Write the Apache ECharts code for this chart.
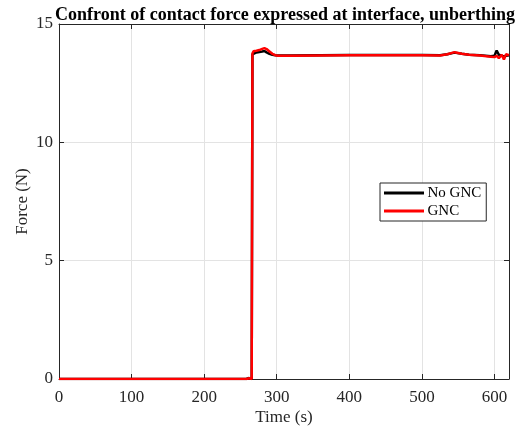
<!DOCTYPE html>
<html>
<head>
<meta charset="utf-8">
<script src="https://cdn.jsdelivr.net/npm/echarts@6/dist/echarts.min.js"></script>
<style>html,body{margin:0;padding:0;background:#fff}#c{width:532px;height:431px}</style>
</head>
<body>
<div id="c"></div>
<script>
const titleText = 'Confront of contact force expressed at interface, unberthing';
const xTicks = [0, 100, 200, 300, 400, 500, 600];
const yTicks = [0, 5, 10, 15];
const time = [0, 100, 200, 258, 262, 264, 265.5, 266.5, 268, 272, 276, 280, 283, 286, 290, 294, 298, 302, 320, 360, 400, 450, 500, 525, 535, 545, 555, 565, 580, 595, 600, 603, 606, 610, 613, 616, 620];
const noGnc = [0, 0, 0, 0, 0.04, 0.08, 0, 13.72, 13.78, 13.8, 13.82, 13.84, 13.86, 13.8, 13.74, 13.7, 13.68, 13.67, 13.67, 13.68, 13.69, 13.69, 13.69, 13.68, 13.72, 13.79, 13.74, 13.7, 13.68, 13.64, 13.66, 13.88, 13.7, 13.66, 13.62, 13.66, 13.68];
const gnc = [0, 0, 0, 0, 0.03, 0.06, 0, 13.75, 13.85, 13.87, 13.9, 13.95, 13.98, 13.94, 13.84, 13.74, 13.68, 13.66, 13.66, 13.67, 13.68, 13.68, 13.68, 13.67, 13.72, 13.81, 13.74, 13.7, 13.67, 13.62, 13.6, 13.66, 13.55, 13.7, 13.5, 13.72, 13.68];

const font = 'Liberation Serif';
const axisColor = '#262626';
const gridColor = '#e3e3e3';
const chart = echarts.init(document.getElementById('c'));
const xMin = xTicks[0], xMax = 620;
const yMin = yTicks[0], yMax = yTicks[yTicks.length - 1];
const baseX = {
  type: 'value', min: xMin, max: xMax, interval: xTicks[1] - xTicks[0],
  axisLine: {show: true, onZero: false, lineStyle: {color: axisColor, width: 1}},
  axisTick: {show: true, inside: true, length: 5, lineStyle: {color: axisColor}}
};
const baseY = {
  type: 'value', min: yMin, max: yMax, interval: yTicks[1] - yTicks[0],
  axisLine: {show: true, onZero: false, lineStyle: {color: axisColor, width: 1}},
  axisTick: {show: true, inside: true, length: 5, lineStyle: {color: axisColor}}
};
const lineIcon = 'path://M0,0 L40,0 L40,3 L0,3 Z';
chart.setOption({
  backgroundColor: '#fff',
  animation: false,
  title: {
    text: titleText, left: 280, top: 1, textAlign: 'center',
    textStyle: {fontFamily: font, fontWeight: 'bold', fontSize: 18, color: '#000'}
  },
  grid: {left: 59, right: 23, top: 24, bottom: 52, outerBoundsMode: 'none', containLabel: false},
  legend: {
    orient: 'vertical', left: 380, top: 183,
    backgroundColor: '#fff', borderColor: axisColor, borderWidth: 1,
    padding: [2, 5, 2, 4], itemGap: 2, itemWidth: 41, itemHeight: 3,
    textStyle: {fontFamily: font, fontSize: 15, color: '#000', padding: [0, 0, 0, -2], lineHeight: 16},
    data: [{name: 'No GNC', icon: lineIcon}, {name: 'GNC', icon: lineIcon}]
  },
  xAxis: [
    Object.assign({}, baseX, {
      position: 'bottom',
      name: 'Time (s)', nameLocation: 'middle', nameGap: 30, nameMoveOverlap: false,
      nameTextStyle: {fontFamily: font, fontSize: 17, color: axisColor},
      axisLabel: {fontFamily: font, fontSize: 17, color: axisColor, margin: 10, showMaxLabel: false},
      splitLine: {show: true, lineStyle: {color: gridColor, width: 1}}
    }),
    Object.assign({}, baseX, {
      position: 'top', axisLabel: {show: false}, splitLine: {show: false}
    })
  ],
  yAxis: [
    Object.assign({}, baseY, {
      position: 'left',
      name: 'Force (N)', nameLocation: 'middle', nameGap: 28, nameMoveOverlap: false,
      nameTextStyle: {fontFamily: font, fontSize: 17, color: axisColor},
      axisLabel: {fontFamily: font, fontSize: 17, color: axisColor, margin: 6},
      splitLine: {show: true, lineStyle: {color: gridColor, width: 1}}
    }),
    Object.assign({}, baseY, {
      position: 'right', axisLabel: {show: false}, splitLine: {show: false}
    })
  ],
  series: [
    {
      name: 'No GNC', type: 'line', xAxisIndex: 0, yAxisIndex: 0,
      data: time.map((t, i) => [t, noGnc[i]]),
      showSymbol: false, symbol: 'none',
      lineStyle: {color: '#000', width: 2.5}, itemStyle: {color: '#000'}
    },
    {
      name: 'GNC', type: 'line', xAxisIndex: 0, yAxisIndex: 0,
      data: time.map((t, i) => [t, gnc[i]]),
      showSymbol: false, symbol: 'none',
      lineStyle: {color: '#ff0000', width: 2.5}, itemStyle: {color: '#ff0000'}
    }
  ]
});
</script>
</body>
</html>
